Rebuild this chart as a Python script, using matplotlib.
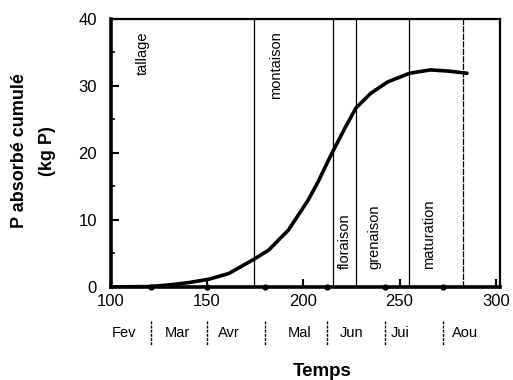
import numpy as np
import matplotlib.pyplot as plt
from matplotlib.ticker import MultipleLocator
import matplotlib.transforms as mtransforms

plt.rcParams['font.family'] = ['Liberation Sans', 'DejaVu Sans']

# cumulated P uptake curve
day = [100, 120, 130.4, 140.7, 151, 161.3, 174.2, 182, 192.3, 202.6, 207.7,
       214.4, 221.6, 227.3, 235, 243.8, 255.2, 266, 276.3, 285]
p_cum = [0, 0.05, 0.3, 0.65, 1.15, 2.0, 4.1, 5.5, 8.5, 13.0, 15.7,
         19.7, 23.7, 26.7, 28.9, 30.6, 31.9, 32.4, 32.2, 31.9]

# phase limits
phase_lines = [174.2, 215.5, 227.3, 255.0, 283.0]
phase_top = ['tallage', 'montaison']
phase_top_x = [116.5, 186.0]
phase_bot = ['floraison', 'grenaison', 'maturation']
phase_bot_x = [221.6, 237.0, 265.5]

# months
months = ['Fev', 'Mar', 'Avr', 'Mal', 'Jun', 'Jui', 'Aou']
month_x = [107, 134.5, 161.3, 198, 225.2, 250.5, 284]
month_bounds = [121, 150, 180, 212.4, 242.3, 272.7]

fig = plt.figure(figsize=(5.13, 3.8), dpi=100)
ax = fig.add_axes([0.216, 0.245, 0.758, 0.705])

ax.plot(day, p_cum, color='black', lw=2.6, solid_capstyle='round',
        solid_joinstyle='round')
for i, x in enumerate(phase_lines):
    ax.axvline(x, color='black', lw=0.9, ls='-' if i < 4 else (0, (5, 1)))

for name, x in zip(phase_top, phase_top_x):
    ax.text(x, 38.2, name, rotation=90, ha='center', va='top', fontsize=10.5)
for name, x in zip(phase_bot, phase_bot_x):
    ax.text(x, 2.6, name, rotation=90, ha='center', va='bottom', fontsize=10.5)

ax.set_xlim(100, 302)
ax.set_ylim(0, 40)
ax.set_xticks([100, 150, 200, 250, 300])
ax.set_yticks([0, 10, 20, 30, 40])
ax.yaxis.set_minor_locator(MultipleLocator(5))
ax.tick_params(axis='both', which='major', direction='in', length=6, width=1.5,
               labelsize=12)
ax.tick_params(axis='y', which='major', pad=10)
ax.tick_params(axis='x', which='major', pad=5)
ax.tick_params(axis='y', which='minor', direction='in', length=3, width=1.2)
ax.tick_params(top=False, right=False)

for side in ['left', 'bottom']:
    ax.spines[side].set_linewidth(2.6)
for side in ['top', 'right']:
    ax.spines[side].set_linewidth(1.6)

# month boundary bumps on the x axis
trans = mtransforms.blended_transform_factory(ax.transData, ax.transAxes)
ax.plot(month_bounds, [0] * len(month_bounds), ls='none', marker='o',
        ms=3.5, color='black', transform=trans, clip_on=False)

# month row
for name, x in zip(months, month_x):
    ax.text(x, -0.172, name, transform=trans, ha='center', va='center',
            fontsize=10.5)
for x in month_bounds:
    ax.plot([x, x], [-0.127, -0.22], transform=trans, color='black',
            lw=1.0, ls=(0, (2, 1)), clip_on=False)

ax.text(210, -0.315, 'Temps', transform=trans, ha='center', va='center',
        fontsize=13.5, fontweight='bold')

fig.text(20 / 513, 1 - 151 / 380, 'P absorbé cumulé', rotation=90,
         ha='center', va='center', fontsize=13, fontweight='bold')
fig.text(48 / 513, 1 - 151 / 380, '(kg P)', rotation=90,
         ha='center', va='center', fontsize=13, fontweight='bold')

fig.savefig('out.png', dpi=100)
